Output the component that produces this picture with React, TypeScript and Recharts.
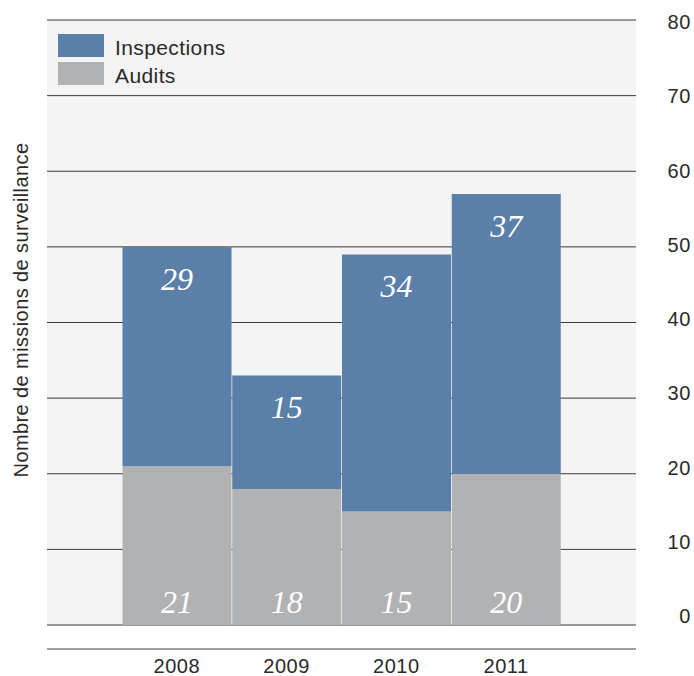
import React from 'react'
import { BarChart, Bar, XAxis, YAxis, CartesianGrid, Legend, LabelList } from 'recharts'

const years = ['2008', '2009', '2010', '2011']
const audits = [21, 18, 15, 20]
const inspections = [29, 15, 34, 37]
const yTicks = [0, 10, 20, 30, 40, 50, 60, 70, 80]

const BLUE = '#5a7fa9'
const GRAY = '#b1b2b4'
const FONT = '"Liberation Sans", Arial, sans-serif'
const INK = '#2a2a2a'

const data = years.map((year, i) => ({ year, audits: audits[i], inspections: inspections[i] }))

const legendItems = [
  { name: 'Inspections', color: BLUE },
  { name: 'Audits', color: GRAY },
]

function LegendBox() {
  return (
    <div style={{ fontFamily: FONT, fontSize: 21, color: INK, letterSpacing: 0.4 }}>
      {legendItems.map((s) => (
        <div key={s.name} style={{ display: 'flex', alignItems: 'center', height: 23, marginBottom: 5 }}>
          <span style={{ display: 'inline-block', width: 46, height: 23, background: s.color }} />
          <span style={{ marginLeft: 11, lineHeight: '23px', position: 'relative', top: 2 }}>{s.name}</span>
        </div>
      ))}
    </div>
  )
}

const RightTick = ({ y, payload }: any) => {
  const v = payload.value as number
  return (
    <text x={691} y={y + 9 - 11 * (1 - v / 80)} textAnchor="end" fontFamily={FONT} fontSize={20} fill={INK} letterSpacing={0.6}>
      {v}
    </text>
  )
}

const YearTick = ({ x, y, payload }: any) => (
  <text x={x} y={y + 16} textAnchor="middle" fontFamily={FONT} fontSize={20} fill={INK} letterSpacing={0.6}>
    {payload.value}
  </text>
)

const TitleLabel = () => (
  <text
    x={28}
    y={310}
    transform="rotate(-90, 28, 310)"
    textAnchor="middle"
    fontFamily={FONT}
    fontSize={20}
    fill={INK}
    letterSpacing={0.4}
  >
    Nombre de missions de surveillance
  </text>
)

const topLabel = ({ x, y, width, value }: any) => (
  <text x={x + width / 2} y={y + 43} textAnchor="middle" fill="#fff" fontFamily='"Liberation Serif", serif' fontStyle="italic" fontSize={32}>
    {value}
  </text>
)

const bottomLabel = ({ x, y, width, height, value }: any) => (
  <text x={x + width / 2} y={y + height - 12} textAnchor="middle" fill="#fff" fontFamily='"Liberation Serif", serif' fontStyle="italic" fontSize={32}>
    {value}
  </text>
)

export default function App() {
  return (
    <div style={{ position: 'absolute', left: 0, top: 0, width: 694, height: 676, background: '#fff' }}>
      <BarChart width={694} height={676} data={data} margin={{ top: 20, right: 0, bottom: 0, left: 0 }} barCategoryGap={0.5}>
        <CartesianGrid vertical={false} fill="#f4f4f4" stroke="#3a3a3a" strokeOpacity={1} />
        <XAxis dataKey="year" height={24} axisLine={false} tickLine={false} tick={false} padding={{ left: 75, right: 75 }} />
        <XAxis
          xAxisId="labels"
          dataKey="year"
          height={27}
          axisLine={{ stroke: '#3a3a3a' }}
          tickLine={false}
          tick={<YearTick />}
          padding={{ left: 75, right: 75 }}
        />
        <YAxis orientation="right" width={58} domain={[0, 80]} ticks={yTicks} axisLine={false} tickLine={false} tick={<RightTick />} />
        <YAxis yAxisId="title" orientation="left" width={47} domain={[0, 80]} axisLine={false} tickLine={false} tick={false} label={<TitleLabel />} />
        <Legend layout="horizontal" verticalAlign="middle" align="center" content={<LegendBox />} wrapperStyle={{ left: 58, top: 34, width: 'auto' }} />
        <Bar dataKey="audits" stackId="a" fill={GRAY} isAnimationActive={false}>
          <LabelList dataKey="audits" content={bottomLabel} />
        </Bar>
        <Bar dataKey="inspections" stackId="a" fill={BLUE} isAnimationActive={false}>
          <LabelList dataKey="inspections" content={topLabel} />
        </Bar>
      </BarChart>
    </div>
  )
}
